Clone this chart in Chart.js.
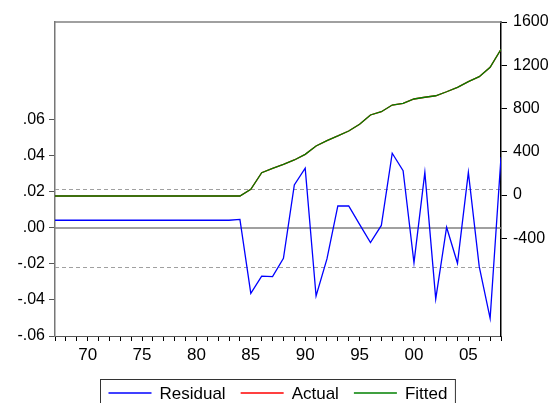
<!DOCTYPE html>
<html lang="en">
<head>
  <meta charset="UTF-8" />
  <title>Residual / Actual / Fitted</title>
  <script src="https://cdn.jsdelivr.net/npm/chart.js"></script>
  <style>
    body { margin: 0; background: #fff; }
    #wrap { width: 556px; height: 403px; }
  </style>
</head>
<body>
  <div id="wrap"><canvas id="chartCanvas" width="556" height="403"></canvas></div>
  <script>
    const years = [1967, 1968, 1969, 1970, 1971, 1972, 1973, 1974, 1975, 1976, 1977, 1978, 1979,
      1980, 1981, 1982, 1983, 1984, 1985, 1986, 1987, 1988, 1989, 1990, 1991, 1992, 1993, 1994,
      1995, 1996, 1997, 1998, 1999, 2000, 2001, 2002, 2003, 2004, 2005, 2006, 2007, 2008];

    const residual = [0.0043, 0.0043, 0.0043, 0.0043, 0.0043, 0.0043, 0.0043, 0.0043, 0.0043,
      0.0043, 0.0043, 0.0043, 0.0043, 0.0043, 0.0043, 0.0043, 0.0043, 0.0048,
      -0.0363, -0.0267, -0.027, -0.0169, 0.0239, 0.0332, -0.0378, -0.0172, 0.0123, 0.0122,
      0.002, -0.0081, 0.0014, 0.0415, 0.0318, -0.0193, 0.0309, -0.0394, 0.0004, -0.0196,
      0.0309, -0.0215, -0.0502, 0.0393];

    const actual = [-9, -9, -9, -9, -9, -9, -9, -9, -9, -9, -9, -9, -9, -9, -9, -9, -9, -9,
      53, 206, 247, 284, 324, 376, 453, 503, 546, 592, 654, 740, 770, 832, 848, 888,
      904, 918, 955, 996, 1048, 1094, 1181, 1348];

    const fitted = [-9, -9, -9, -9, -9, -9, -9, -9, -9, -9, -9, -9, -9, -9, -9, -9, -9, -9,
      53, 206, 247, 284, 324, 376, 453, 503, 546, 592, 654, 740, 770, 832, 848, 888,
      904, 918, 955, 996, 1048, 1094, 1181, 1348];

    const leftTicks = [-0.06, -0.04, -0.02, 0, 0.02, 0.04, 0.06];
    const rightTicks = [-400, 0, 400, 800, 1200, 1600];
    const bandLines = [0.0215, -0.0215];

    const FONT = '"Liberation Sans", Arial, sans-serif';

    function pts(vals) {
      return years.map((yr, i) => ({ x: yr, y: vals[i] }));
    }

    // zero line, +/- 1 s.e. dashed lines, top frame and the boxed legend
    const refLines = {
      id: 'refLines',
      beforeDatasetsDraw(chart) {
        const { ctx, chartArea: a, scales } = chart;
        ctx.save();
        ctx.lineWidth = 1;
        ctx.strokeStyle = '#a0a0a0';
        ctx.setLineDash([4, 3]);
        bandLines.forEach(v => {
          const y = Math.round(scales.y.getPixelForValue(v)) + 0.5;
          ctx.beginPath(); ctx.moveTo(a.left, y); ctx.lineTo(a.right, y); ctx.stroke();
        });
        ctx.setLineDash([]);
        ctx.strokeStyle = '#808080';
        ctx.lineWidth = 1.6;
        const y0 = scales.y.getPixelForValue(0);
        ctx.beginPath(); ctx.moveTo(a.left, y0); ctx.lineTo(a.right, y0); ctx.stroke();
        ctx.beginPath(); ctx.moveTo(a.left, a.top); ctx.lineTo(a.right, a.top); ctx.stroke();
        ctx.restore();
      },
      afterDraw(chart) {
        const { ctx } = chart;
        const items = chart.data.datasets.map(d => ({ text: d.label, color: d.borderColor }));
        ctx.save();
        ctx.font = '17px ' + FONT;
        const lineLen = 43, gap = 8, itemGap = 15, pad = 8;
        let total = pad * 2;
        items.forEach((it, i) => {
          it.w = ctx.measureText(it.text).width;
          total += lineLen + gap + it.w + (i ? itemGap : 0);
        });
        const boxL = Math.round(277.5 - total / 2) + 0.5;
        const boxT = 379.5;
        ctx.strokeStyle = '#333';
        ctx.lineWidth = 1;
        ctx.strokeRect(boxL, boxT, total, 40);
        let x = boxL + pad;
        const cy = 393;
        ctx.textBaseline = 'middle';
        ctx.fillStyle = '#000';
        items.forEach((it, i) => {
          if (i) x += itemGap;
          ctx.strokeStyle = it.color;
          ctx.lineWidth = 1.5;
          ctx.beginPath(); ctx.moveTo(x, cy); ctx.lineTo(x + lineLen, cy); ctx.stroke();
          x += lineLen + gap;
          ctx.fillText(it.text, x, cy + 1);
          x += it.w;
        });
        ctx.restore();
      }
    };

    const ctx = document.getElementById('chartCanvas').getContext('2d');
    new Chart(ctx, {
      type: 'line',
      data: {
        datasets: [
          { label: 'Residual', data: pts(residual), yAxisID: 'y', borderColor: '#0000ff', borderWidth: 1.3, order: 0 },
          { label: 'Actual', data: pts(actual), yAxisID: 'y2', borderColor: '#ff0000', borderWidth: 1.3, order: 2 },
          { label: 'Fitted', data: pts(fitted), yAxisID: 'y2', borderColor: '#008000', borderWidth: 1.3, order: 1 }
        ]
      },
      options: {
        responsive: false,
        animation: false,
        layout: { padding: { top: 22, left: 0, right: 0, bottom: 0 } },
        elements: { point: { radius: 0 }, line: { tension: 0 } },
        plugins: { legend: { display: false }, tooltip: { enabled: false } },
        scales: {
          x: {
            type: 'linear',
            min: 1967,
            max: 2008,
            afterBuildTicks: s => { s.ticks = years.map(v => ({ value: v })); },
            afterFit: s => { s.height = 67; },
            grid: { drawOnChartArea: false, tickLength: 5, color: '#000', tickColor: '#000' },
            border: { color: '#555', width: 1 },
            ticks: {
              autoSkip: false, maxRotation: 0, padding: 4, color: '#000',
              font: { family: FONT, size: 17 },
              callback: v => v % 5 === 0 ? String(v % 100).padStart(2, '0') : ''
            }
          },
          y: {
            position: 'left',
            min: -0.06,
            max: 0.1144,
            afterBuildTicks: s => { s.ticks = leftTicks.map(v => ({ value: v })); },
            afterFit: s => { s.width = 55; },
            grid: { drawOnChartArea: false, tickLength: 6, tickColor: '#555' },
            border: { color: '#777', width: 1.5 },
            ticks: {
              padding: 4, color: '#000', font: { family: FONT, size: 16 },
              callback: v => v.toFixed(2).replace('0.', '.')
            }
          },
          y2: {
            position: 'right',
            min: -1304,
            max: 1600,
            afterBuildTicks: s => { s.ticks = rightTicks.map(v => ({ value: v })); },
            afterFit: s => { s.width = 55; },
            grid: { drawOnChartArea: false, tickLength: 6, tickColor: '#000' },
            border: { color: '#000', width: 1.5 },
            ticks: { padding: 6, color: '#000', font: { family: FONT, size: 16 }, callback: v => String(v) }
          }
        }
      },
      plugins: [refLines]
    });
  </script>
</body>
</html>
